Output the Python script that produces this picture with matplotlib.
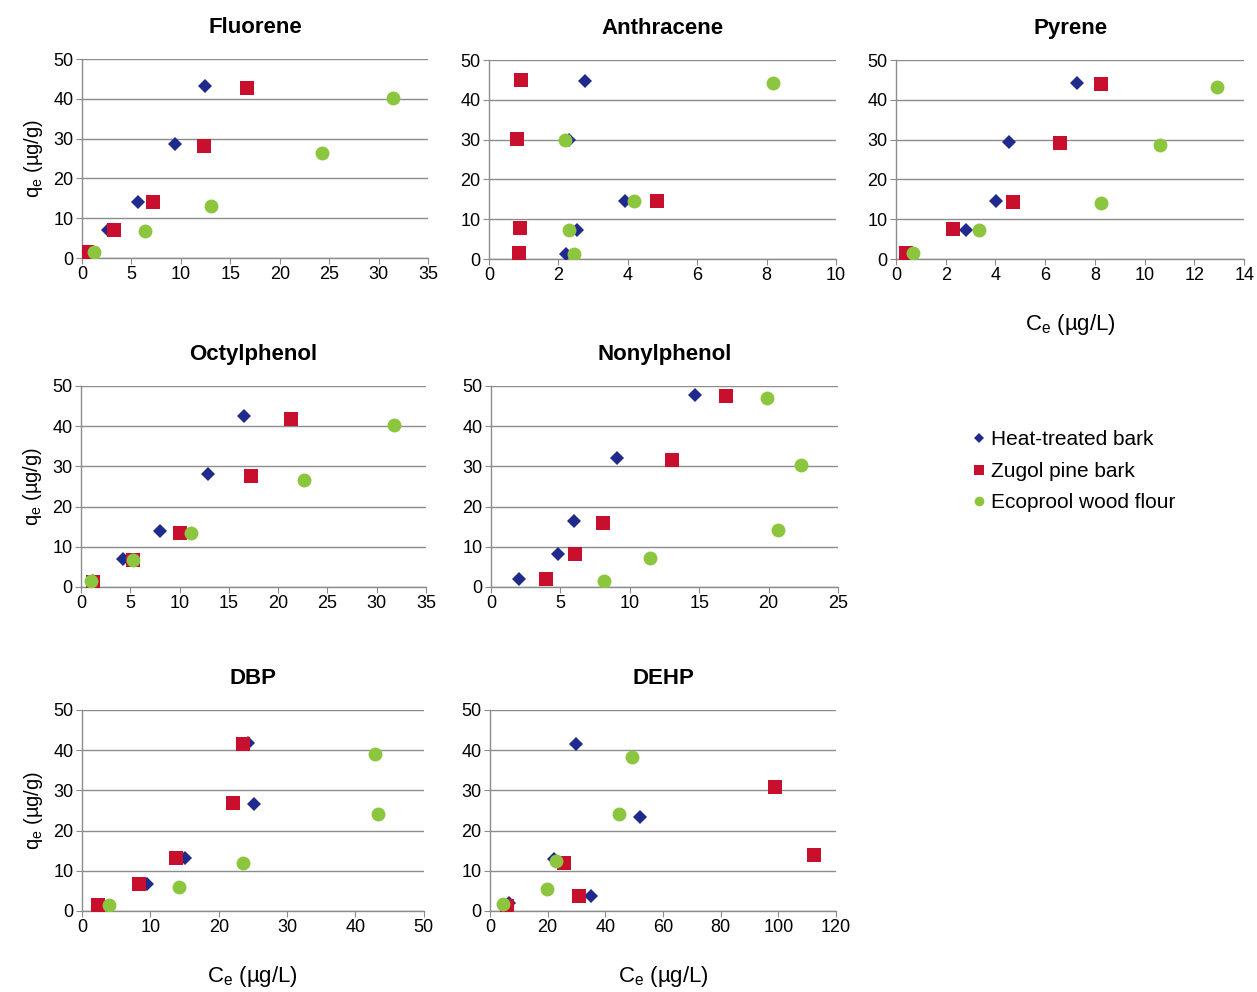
import matplotlib.pyplot as plt

plt.rcParams['font.family'] = ['Liberation Sans', 'DejaVu Sans']
plt.rcParams['mathtext.fontset'] = 'custom'
plt.rcParams['mathtext.rm'] = 'Liberation Sans'

series_names = ['Heat-treated bark', 'Zugol pine bark', 'Ecoprool wood flour']
colors = ['#1f2a8c', '#c8102e', '#8cc63f']
markers = ['D', 's', 'o']
marker_sizes = [7.5, 9.5, 10]

# Ce (ug/L) and qe (ug/g) per compound, per sorbent
fluorene_x = [[0.6, 2.6, 5.7, 9.4, 12.4], [0.5, 3.2, 7.2, 12.3, 16.7], [1.2, 6.4, 13.1, 24.3, 31.5]]
fluorene_y = [[1.5, 7.1, 14.1, 28.6, 43.1], [1.6, 7.1, 14.0, 28.2, 42.6], [1.5, 6.7, 13.1, 26.4, 40.3]]

anthracene_x = [[2.21, 2.53, 3.92, 2.32, 2.76], [0.87, 0.9, 4.85, 0.82, 0.92], [2.45, 2.30, 4.19, 2.2, 8.19]]
anthracene_y = [[1.3, 7.3, 14.5, 29.9, 44.7], [1.5, 7.7, 14.5, 30.1, 45.1], [1.3, 7.4, 14.6, 29.9, 44.1]]

pyrene_x = [[0.5, 2.81, 4.02, 4.55, 7.27], [0.41, 2.29, 4.7, 6.6, 8.23], [0.70, 3.33, 8.25, 10.6, 12.9]]
pyrene_y = [[1.6, 7.3, 14.6, 29.5, 44.1], [1.6, 7.45, 14.4, 29.1, 44.0], [1.6, 7.3, 14.0, 28.6, 43.2]]

octyl_x = [[1.2, 4.24, 8.04, 12.93, 16.5], [1.26, 5.3, 10.05, 17.2, 21.3], [1.0, 5.3, 11.2, 22.6, 31.8]]
octyl_y = [[1.4, 6.9, 13.8, 28.1, 42.6], [1.3, 6.6, 13.5, 27.5, 41.9], [1.4, 6.7, 13.4, 26.7, 40.4]]

nonyl_x = [[2.02, 4.8, 5.98, 9.08, 14.72], [3.96, 6.05, 8.07, 13.04, 16.9], [8.17, 11.46, 20.7, 22.33, 19.86]]
nonyl_y = [[2.1, 8.3, 16.3, 32.2, 47.8], [1.9, 8.2, 16.0, 31.7, 47.6], [1.4, 7.3, 14.2, 30.3, 47.1]]

dbp_x = [[2.7, 9.5, 15.1, 25.1, 24.3], [2.4, 8.4, 13.8, 22.05, 23.6], [3.9, 14.2, 23.5, 43.3, 42.9]]
dbp_y = [[1.6, 6.6, 13.2, 26.6, 41.7], [1.5, 6.6, 13.2, 26.9, 41.6], [1.5, 6.0, 12.0, 24.0, 39.0]]

dehp_x = [[6.5, 34.9, 22.3, 51.9, 29.8], [5.8, 30.8, 25.8, 112.5, 98.8], [4.6, 19.6, 22.8, 44.8, 49.3]]
dehp_y = [[1.9, 3.6, 12.9, 23.3, 41.5], [1.2, 3.6, 11.9, 13.9, 30.8], [1.7, 5.4, 12.5, 24.0, 38.2]]

panels = [
    ('Fluorene', fluorene_x, fluorene_y, 35, 5, [0.0652, 0.7399, 0.2753, 0.2006]),
    ('Anthracene', anthracene_x, anthracene_y, 10, 2, [0.389, 0.7389, 0.276, 0.2006]),
    ('Pyrene', pyrene_x, pyrene_y, 14, 2, [0.7128, 0.7389, 0.277, 0.2006]),
    ('Octylphenol', octyl_x, octyl_y, 35, 5, [0.0644, 0.4083, 0.2745, 0.2026]),
    ('Nonylphenol', nonyl_x, nonyl_y, 25, 5, [0.3906, 0.4083, 0.276, 0.2026]),
    ('DBP', dbp_x, dbp_y, 50, 10, [0.0652, 0.0817, 0.272, 0.2026]),
    ('DEHP', dehp_x, dehp_y, 120, 20, [0.3898, 0.0817, 0.2753, 0.2026]),
]
left_col = ['Fluorene', 'Octylphenol', 'DBP']
with_xlabel = ['Pyrene', 'DBP', 'DEHP']

fig = plt.figure(figsize=(12.57, 9.92), dpi=100)

handles = []
for name, xs, ys, xmax, xstep, pos in panels:
    ax = fig.add_axes(pos)
    for i in range(3):
        h, = ax.plot(xs[i], ys[i], linestyle='none', marker=markers[i], ms=marker_sizes[i],
                     color=colors[i], markeredgewidth=0, label=series_names[i], zorder=3)
        if name == 'Fluorene':
            handles.append(h)
    ax.set_xlim(0, xmax)
    ax.set_ylim(0, 50)
    ax.set_xticks(range(0, xmax + 1, xstep))
    ax.set_yticks(range(0, 51, 10))
    ax.grid(axis='y', color='#8c8c8c', linewidth=1.0)
    ax.set_axisbelow(True)
    for s in ['top', 'right']:
        ax.spines[s].set_visible(False)
    for s in ['left', 'bottom']:
        ax.spines[s].set_color('#8c8c8c')
        ax.spines[s].set_linewidth(1.0)
    ax.tick_params(colors='#8c8c8c', labelcolor='black', labelsize=13, length=4, pad=2)
    ax.set_title(name, fontsize=16, fontweight='bold', pad=19)
    if name in left_col:
        ax.set_ylabel('q$_\\mathregular{e}$ (µg/g)', fontsize=14.5, labelpad=6)
    if name in with_xlabel:
        ax.set_xlabel('C$_\\mathregular{e}$ (µg/L)', fontsize=16, labelpad=20)

leg = fig.legend(handles=handles, loc='upper left', bbox_to_anchor=(0.755, 0.585),
                 frameon=False, fontsize=15, handletextpad=0.0, handlelength=1.1,
                 labelspacing=0.6, markerscale=0.7)

plt.savefig('out.png', dpi=100)
